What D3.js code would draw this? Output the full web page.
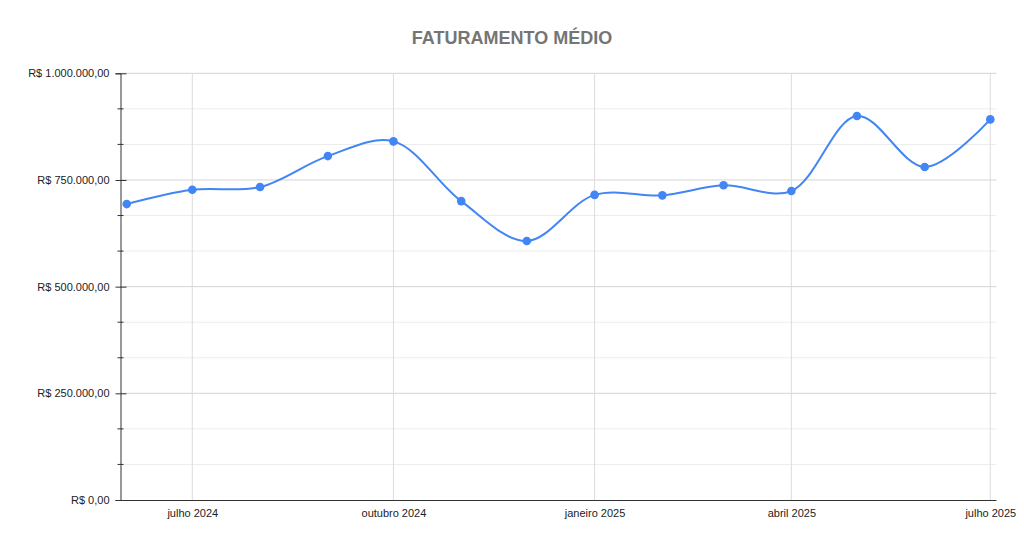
<!DOCTYPE html>
<html><head><meta charset="utf-8">
<script src="https://cdn.jsdelivr.net/npm/d3@7"></script>
<style>body{margin:0;background:#fff;}svg{display:block;font-family:"Liberation Sans",Arial,sans-serif;}</style>
</head><body>
<svg id="c" width="1024" height="546"></svg>
<script>
const title = "FATURAMENTO MÉDIO";
const months = ["2024-06-01","2024-07-01","2024-08-01","2024-09-01","2024-10-01","2024-11-01","2024-12-01","2025-01-01","2025-02-01","2025-03-01","2025-04-01","2025-05-01","2025-06-01","2025-07-01"];
const values = [693500,727000,733500,806000,840500,700500,607000,715000,714000,737500,724000,900000,780500,892000];
const xTickDates = ["2024-07-01","2024-10-01","2025-01-01","2025-04-01","2025-07-01"];
const xTickLabels = ["julho 2024","outubro 2024","janeiro 2025","abril 2025","julho 2025"];
const yMajorTicks = [0,250000,500000,750000,1000000];
const yMinorTicks = [83333,166667,333333,416667,583333,666667,833333,916667];

(function(){
const parse = d3.utcParse("%Y-%m-%d");
const dates = months.map(parse);
const data = dates.map((d,i)=>({d, v: values[i]}));

const svg = d3.select("#c");
const pL = 120.5, pR = 996.5, pT = 73.3, pB = 500;
const x = d3.scaleUtc().domain([dates[0], dates[dates.length-1]]).range([126.7, 990.3]);
const y = d3.scaleLinear().domain([0,1000000]).range([pB, pT]);

const fmt = v => "R$ " + d3.format(",.2f")(v).replace(/,/g,"#").replace(/\./g,",").replace(/#/g,".");

// minor gridlines
svg.append("g").selectAll("line").data(yMinorTicks).join("line")
  .attr("x1", pL).attr("x2", pR)
  .attr("y1", d=>y(d)).attr("y2", d=>y(d))
  .attr("stroke","#ececec").attr("stroke-width",1);
// major gridlines
svg.append("g").selectAll("line").data(yMajorTicks.slice(1)).join("line")
  .attr("x1", pL).attr("x2", pR)
  .attr("y1", d=>y(d)).attr("y2", d=>y(d))
  .attr("stroke","#d4d4d4").attr("stroke-width",1);
// vertical gridlines
svg.append("g").selectAll("line").data(xTickDates.map(parse)).join("line")
  .attr("x1", d=>x(d)).attr("x2", d=>x(d))
  .attr("y1", pT).attr("y2", pB)
  .attr("stroke","#dcdcdc").attr("stroke-width",1);

// y axis
const yAxis = svg.append("g").attr("transform",`translate(${pL},0)`)
  .call(d3.axisLeft(y).tickValues(yMajorTicks).tickFormat(fmt).tickSize(5).tickPadding(6));
yAxis.select(".domain").attr("stroke","#333");
yAxis.selectAll(".tick line").attr("stroke","#333").attr("x2", 6).attr("x1",-5);
yAxis.selectAll("text").attr("font-size",11).attr("fill","#222").attr("font-family","Liberation Sans, Arial, sans-serif");
yAxis.append("g").selectAll("line").data(yMinorTicks).join("line")
  .attr("x1",-3).attr("x2",3).attr("y1",d=>y(d)).attr("y2",d=>y(d)).attr("stroke","#333");

// x axis
const xAxis = svg.append("g").attr("transform",`translate(0,${pB})`)
  .call(d3.axisBottom(x).tickValues(xTickDates.map(parse)).tickFormat((d,i)=>xTickLabels[i]).tickSize(0).tickPadding(9));
xAxis.select(".domain").attr("d", `M${pL},0.5H${pR}`).attr("stroke","#333");
xAxis.selectAll("text").attr("font-size",11).attr("fill","#222").attr("font-family","Liberation Sans, Arial, sans-serif");

// line
const line = d3.line().x(d=>x(d.d)).y(d=>y(d.v)).curve(d3.curveCatmullRom.alpha(0.5));
svg.append("path").datum(data).attr("d", line)
  .attr("fill","none").attr("stroke","#4285f4").attr("stroke-width",2);
svg.append("g").selectAll("circle").data(data).join("circle")
  .attr("cx", d=>x(d.d)).attr("cy", d=>y(d.v)).attr("r",4.3).attr("fill","#4285f4");

// title
svg.append("text").attr("x", 512).attr("y", 44).attr("text-anchor","middle")
  .attr("font-size",18).attr("font-weight","bold").attr("fill","#757575").text(title);
})();
</script>
</body></html>
